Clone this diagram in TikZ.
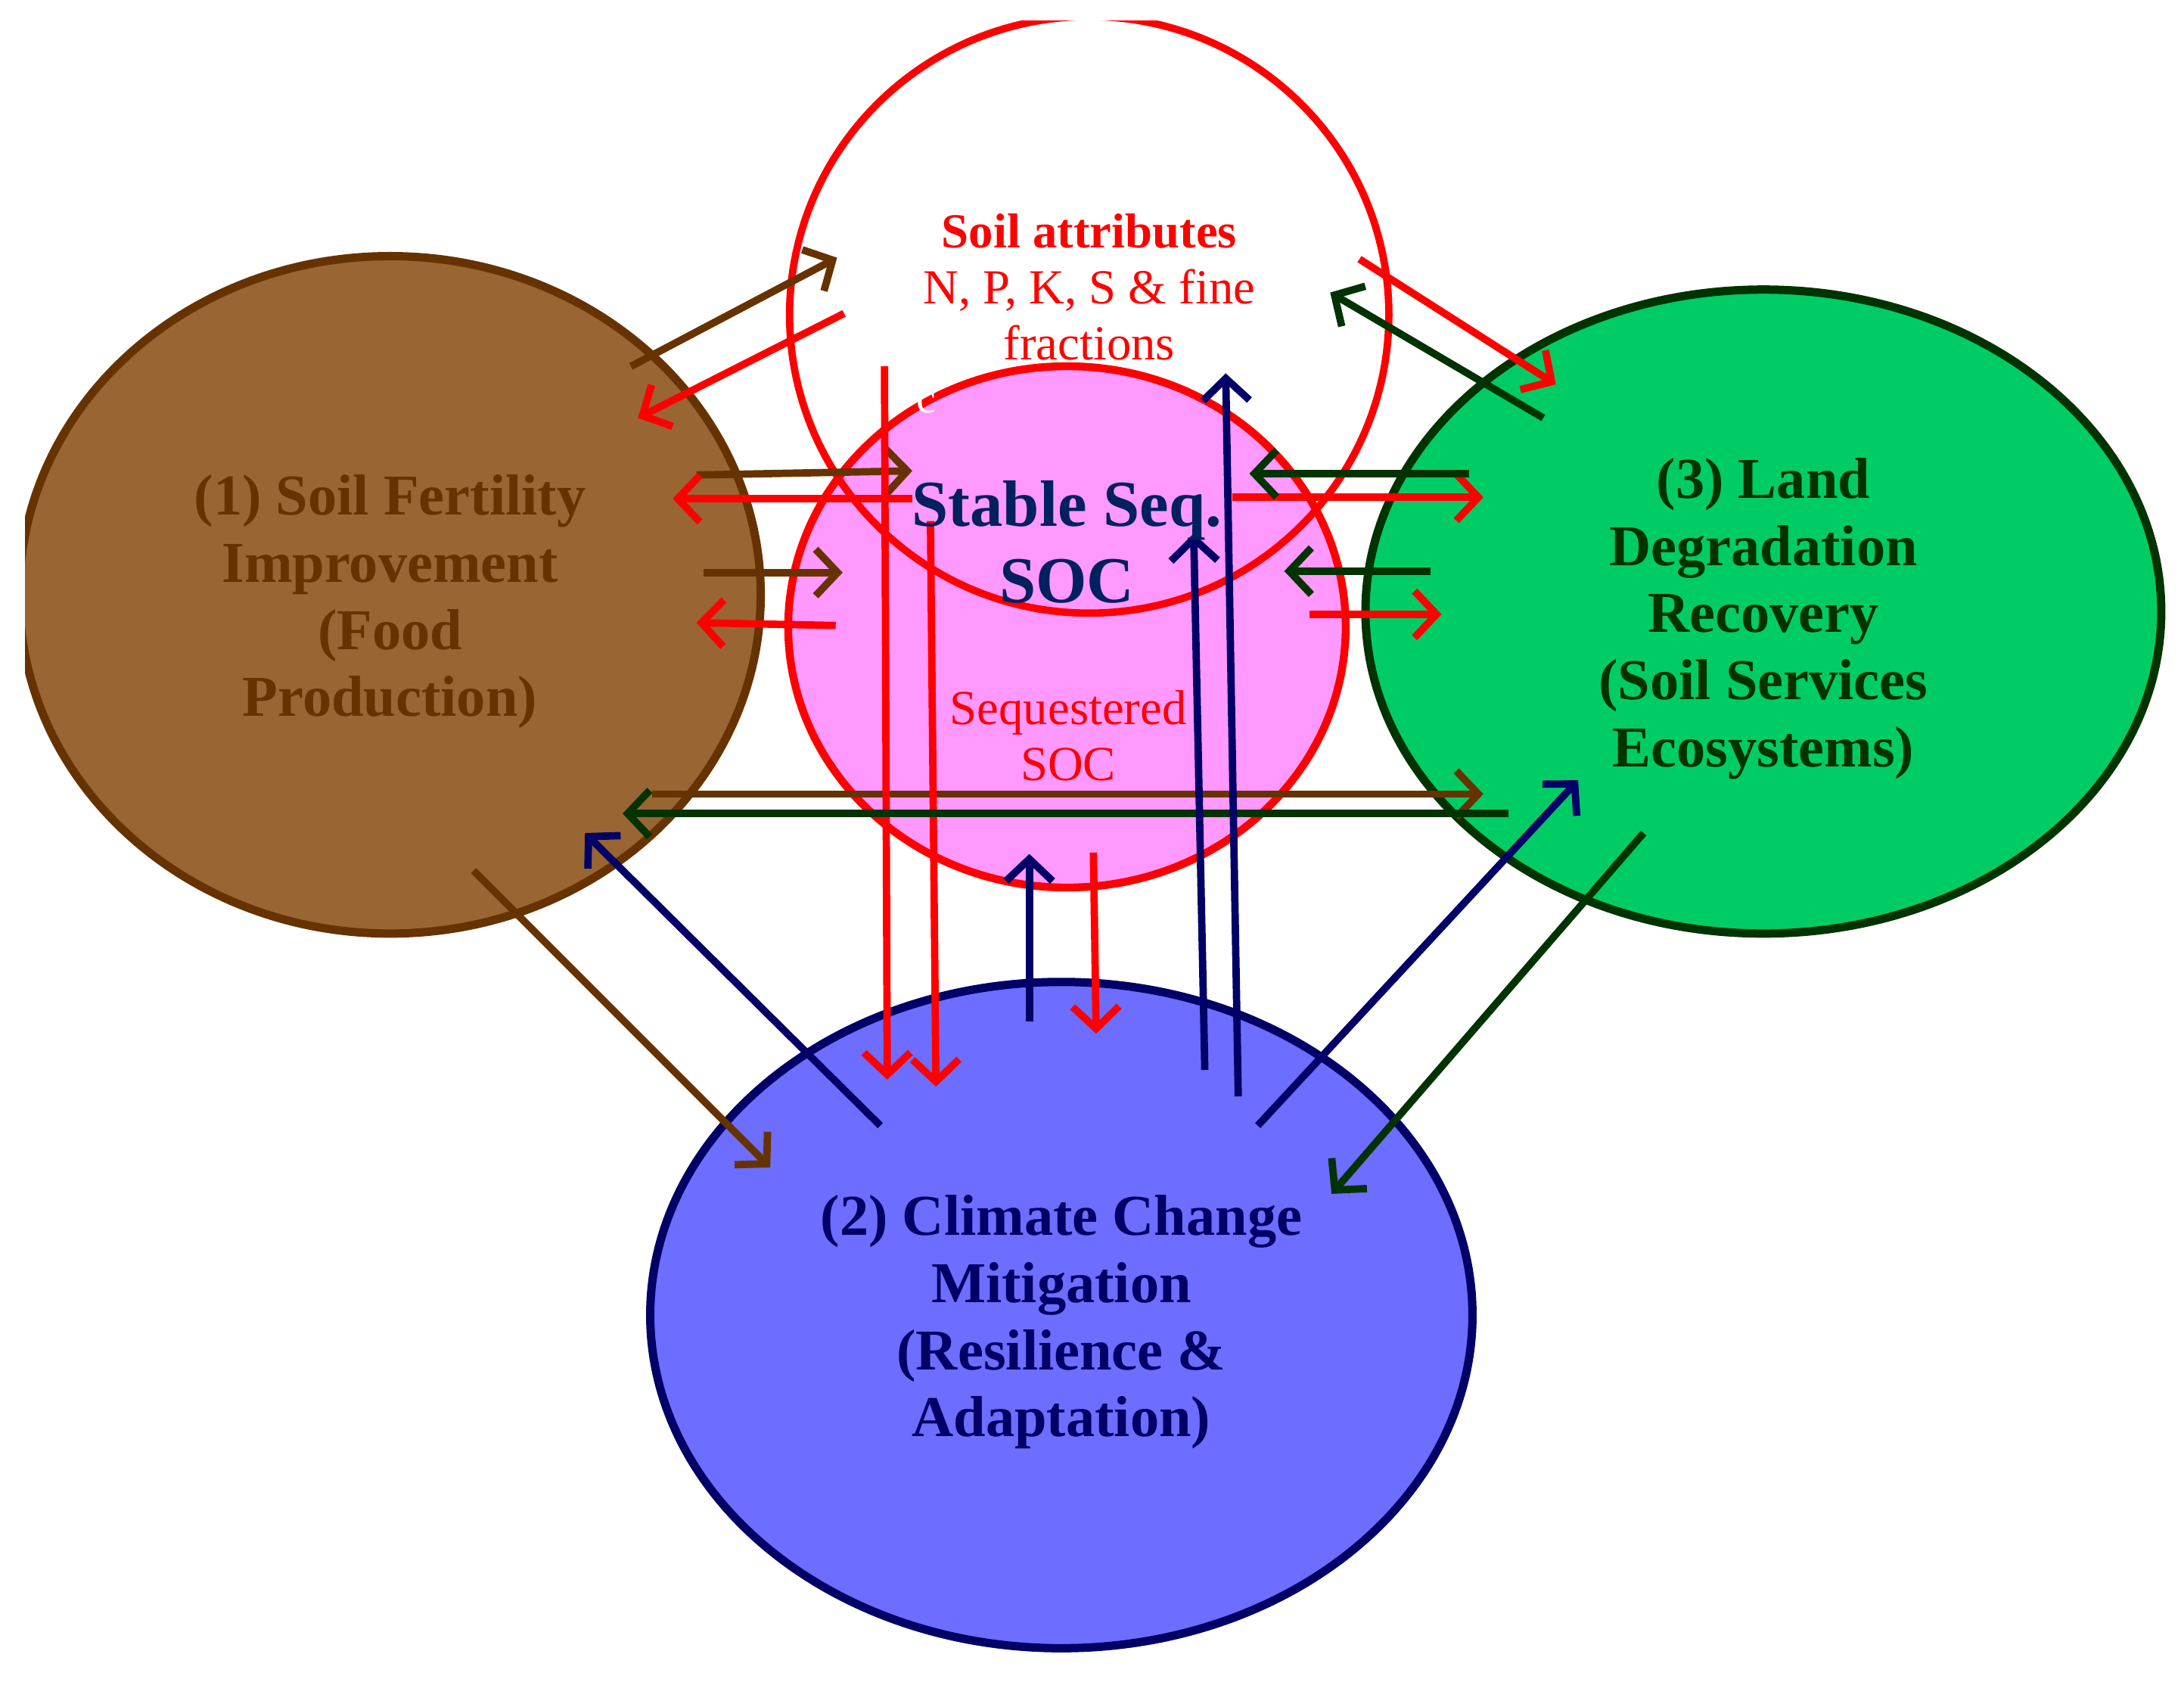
\documentclass[tikz,border=0pt]{standalone}
\usepackage{fontspec}
\setmainfont{Liberation Serif}
\usetikzlibrary{arrows.meta,shapes.geometric}
\definecolor{soilbrown}{HTML}{996633}
\definecolor{darkbrown}{HTML}{663300}
\definecolor{leafgreen}{HTML}{00CC66}
\definecolor{darkgreen}{HTML}{003300}
\definecolor{climblue}{HTML}{6D6DFF}
\definecolor{navy}{HTML}{000066}
\definecolor{socpink}{HTML}{FF99FF}
\definecolor{socblue}{HTML}{002060}

\begin{document}
\begin{tikzpicture}[x=0.01cm,y=-0.01cm,line width=1.5pt,
  >={Straight Barb[length=4.5pt,width=9.5pt]},
  big node/.style={ellipse,draw,line width=1.7pt,inner sep=0pt},
  brown node/.style={big node,fill=soilbrown,draw=darkbrown},
  green node/.style={big node,fill=leafgreen,draw=darkgreen},
  blue node/.style={big node,fill=climblue,draw=navy},
  pink node/.style={ellipse,fill=socpink,draw=red,line width=1.6pt},
  attr node/.style={ellipse,draw=red,line width=1.5pt},
  big text/.style={align=center,font=\fontsize{11.8}{13.7}\selectfont\bfseries},
  red text/.style={text=red,align=center,font=\fontsize{10}{11.4}\selectfont},
  brown arrow/.style={->,darkbrown},
  red arrow/.style={->,red},
  green arrow/.style={->,darkgreen},
  navy arrow/.style={->,navy}]
  \useasboundingbox (0,0) rectangle (1568,1207);
  \clip (18,15) rectangle (1568,1207);

  % the five circles
  \node[brown node,minimum width=5.32cm,minimum height=4.86cm] (fert) at (280,427) {};
  \node[green node,minimum width=5.71cm,minimum height=4.62cm] (land) at (1266,439) {};
  \node[blue node,minimum width=5.9cm,minimum height=4.78cm] (clim) at (762,944) {};
  \node[pink node,minimum width=4.0cm,minimum height=3.74cm] (seq) at (766,450) {};
  \node[attr node,minimum width=4.3cm,minimum height=4.28cm] (attr) at (782,226) {};

  % arrow ends
  \foreach \n/\x/\y in {b1s/453/263, b1e/601/185, b2s/500/341, b2e/655/338,
      b3s/505/411, b3e/605/411, b4s/468/570, b4e/1065/570, b5s/340/625, b5e/553/838,
      r1s/606/225, r1e/458/300, r2s/655/358, r2e/483/358, r3s/600/449, r3e/500/447,
      r4s/976/186, r4e/1117/276, r5s/885/357, r5e/1065/357, r6s/940/441, r6e/1035/441,
      r7s/635/263, r7e/637/775, r8s/668/374, r8e/672/780, r9s/785/612, r9e/787/742,
      g1s/1108/300, g1e/955/210, g2s/1055/340, g2e/897/340, g3s/1027/410, g3e/922/410,
      g4s/1083/584, g4e/447/584, g5s/1180/598, g5e/956/857,
      n1s/632/808, n1e/420/598, n2s/739/733, n2e/739/613, n3s/865/768, n3e/857/383,
      n4s/889/787, n4e/880/268, n5s/903/808, n5e/1133/560}
    \coordinate (\n) at (\x,\y);

  \foreach \a in {b1,b2,b3,b4,b5}
    \draw[brown arrow] (\a s) -- (\a e);
  \foreach \a in {r1,r2,r3,r4,r5,r6,r7,r8,r9}
    \draw[red arrow] (\a s) -- (\a e);
  \foreach \a in {g1,g2,g3,g4,g5}
    \draw[green arrow] (\a s) -- (\a e);
  \foreach \a in {n1,n2,n3,n4,n5}
    \draw[navy arrow] (\a s) -- (\a e);

  % texts
  \node[big text,text=darkbrown] (ferttext) at ([yshift=-0.05cm]fert.center)
    {(1) Soil Fertility\\Improvement\\(Food\\Production)};
  \node[big text,text=darkgreen] (landtext) at ([yshift=-0.05cm]land.center)
    {(3) Land\\Degradation\\Recovery\\(Soil Services\\Ecosystems)};
  \node[big text,text=navy] (climtext) at ([yshift=-0.05cm]clim.center)
    {(2) Climate Change\\Mitigation\\(Resilience \&\\Adaptation)};
  \node[red text] (attrtext) at (782,206)
    {\textbf{Soil attributes}\\N, P, K, S \& fine\\fractions};
  \node[align=center,text=socblue,font=\fontsize{13.4}{15.6}\selectfont\bfseries]
    (soctext) at (766,389) {Stable Seq.\\SOC};
  \node[red text] (seqtext) at (767,528) {Sequestered\\SOC};
  \node[text=white,font=\fontsize{9}{9}\selectfont] (mark) at (665,289) {c};
\end{tikzpicture}
\end{document}
